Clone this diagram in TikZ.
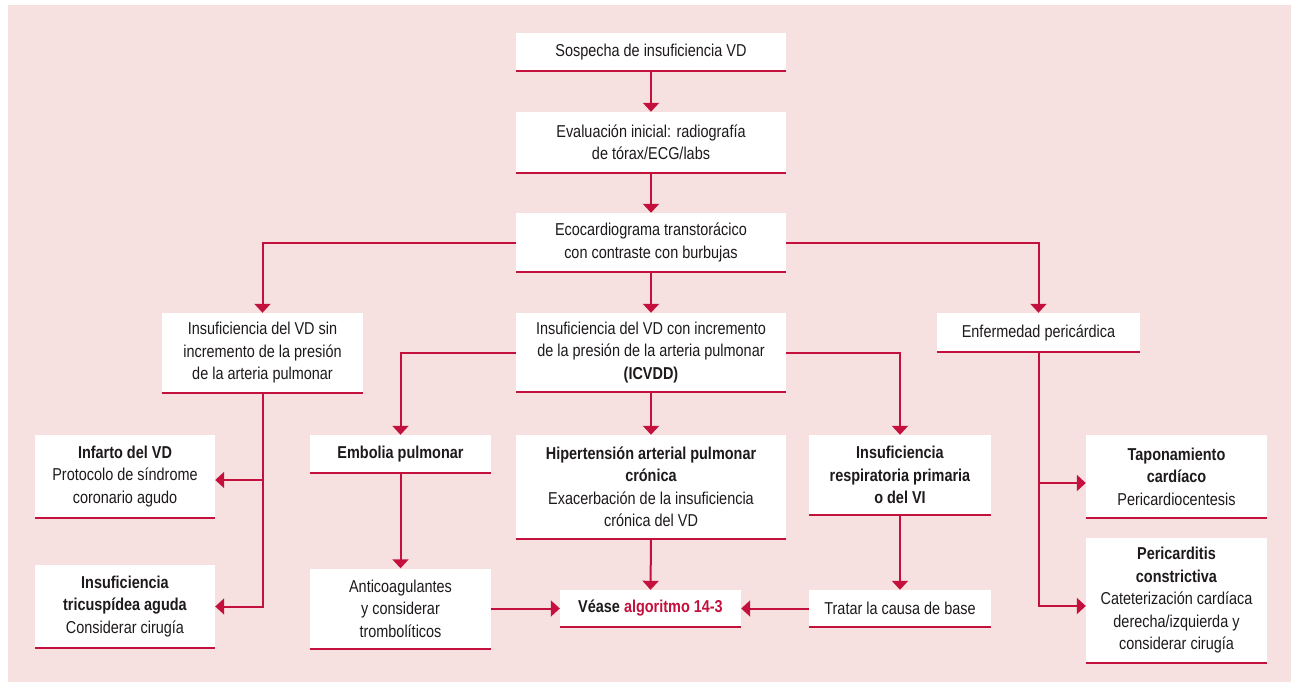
\documentclass[tikz,border=0pt]{standalone}
\usepackage{fontspec}
\setmainfont{Liberation Sans}[FakeStretch=0.84]
\usetikzlibrary{arrows.meta,calc}
\definecolor{bgpink}{HTML}{F6E1E0}
\definecolor{crim}{HTML}{C4103C}
\definecolor{ink}{HTML}{1E1A1B}
\begin{document}
\begin{tikzpicture}[x=1pt,y=-1pt,
  box/.style={fill=white, draw=none, align=center, inner sep=2pt,
    text=ink, font=\fontsize{17.2}{22.5}\selectfont},
  arr/.style={draw=crim, line width=2pt,
    -{Triangle[width=16pt,length=9pt]}},
  bar/.style={draw=crim, line width=2pt}]
\useasboundingbox (0,0) rectangle (1291,682);
\fill[white] (0,0) rectangle (1291,682);
\fill[bgpink] (8,5) rectangle (1291,682);

% top column
\node[box, minimum width=270pt, minimum height=38pt] (n1) at (651,52)
  {Sospecha de insuficiencia VD};
\node[box, minimum width=270pt, minimum height=61pt] (n2) at (651,142.5)
  {Evaluación inicial: radiografía\\de tórax/ECG/labs};
\node[box, minimum width=270pt, minimum height=59pt] (n3) at (651,242.5)
  {Ecocardiograma transtorácico\\con contraste con burbujas};

% second level
\node[box, minimum width=201pt, minimum height=80pt] (sin) at (262.5,353)
  {Insuficiencia del VD sin\\incremento de la presión\\de la arteria pulmonar};
\node[box, minimum width=270pt, minimum height=79pt] (con) at (651,352.5)
  {Insuficiencia del VD con incremento\\de la presión de la arteria pulmonar\\\textbf{(ICVDD)}};
\node[box, minimum width=203pt, minimum height=39pt] (per) at (1038.5,332.5)
  {Enfermedad pericárdica};

% left branch
\node[box, minimum width=180pt, minimum height=83pt] (inf) at (125,476.5)
  {\textbf{Infarto del VD}\\Protocolo de síndrome\\coronario agudo};
\node[box, minimum width=180pt, minimum height=83pt] (tri) at (125,606.5)
  {\textbf{Insuficiencia}\\\textbf{tricuspídea aguda}\\Considerar cirugía};

% ICVDD branch
\node[box, minimum width=181pt, minimum height=38pt] (emb) at (400.5,454)
  {\textbf{Embolia pulmonar}};
\node[box, minimum width=181pt, minimum height=80pt] (anti) at (400.5,608.5)
  {Anticoagulantes\\y considerar\\trombolíticos};
\node[box, minimum width=270pt, minimum height=104pt] (hip) at (651,487)
  {\textbf{Hipertensión arterial pulmonar}\\\textbf{crónica}\\Exacerbación de la insuficiencia\\crónica del VD};
\node[box, minimum width=181pt, minimum height=37pt] (vea) at (650.5,608.5)
  {\textbf{Véase \textcolor{crim}{algoritmo 14-3}}};
\node[box, minimum width=182pt, minimum height=80pt] (resp) at (900,475)
  {\textbf{Insuficiencia}\\\textbf{respiratoria primaria}\\\textbf{o del VI}};
\node[box, minimum width=182pt, minimum height=37pt] (tra) at (900,608.5)
  {Tratar la causa de base};

% pericardial branch
\node[box, minimum width=181pt, minimum height=83pt] (tap) at (1176.5,476.5)
  {\textbf{Taponamiento}\\\textbf{cardíaco}\\Pericardiocentesis};
\node[box, minimum width=181pt, minimum height=125pt] (peric) at (1176.5,600.5)
  {\textbf{Pericarditis}\\\textbf{constrictiva}\\Cateterización cardíaca\\derecha/izquierda y\\considerar cirugía};

% red rule under every box
\foreach \n in {n1,n2,n3,sin,con,per,inf,tri,emb,anti,hip,vea,resp,tra,tap,peric}
  \draw[bar] (\n.south west) -- (\n.south east);

% connectors
\draw[arr] (n1.south) -- (n2.north);
\draw[arr] (n2.south) -- (n3.north);
\draw[arr] (n3.west) -| (sin.north);
\draw[arr] (n3.south) -- (con.north);
\draw[arr] (n3.east) -| (per.north);

\coordinate (infin) at ($(inf.east)+(0,3.5)$);
\draw[arr] (sin.south) |- (tri.east);
\draw[arr] (sin.south |- infin) -- (infin);

\draw[arr] (con.west) -| (emb.north);
\draw[arr] (con.east) -| (resp.north);
\draw[arr] (con.south) -- (hip.north);
\draw[arr] (emb.south) -- (anti.north);
\draw[arr] (hip.south) -- (vea.north);
\draw[arr] (anti.east) -- (vea.west);
\draw[arr] (resp.south) -- (tra.north);
\draw[arr] (tra.west) -- (vea.east);

\coordinate (tapin) at ($(tap.west)+(0,6.5)$);
\coordinate (pcin) at ($(peric.west)+(0,5.5)$);
\draw[arr] (per.south) |- (pcin);
\draw[arr] (per.south |- tapin) -- (tapin);
\end{tikzpicture}
\end{document}
